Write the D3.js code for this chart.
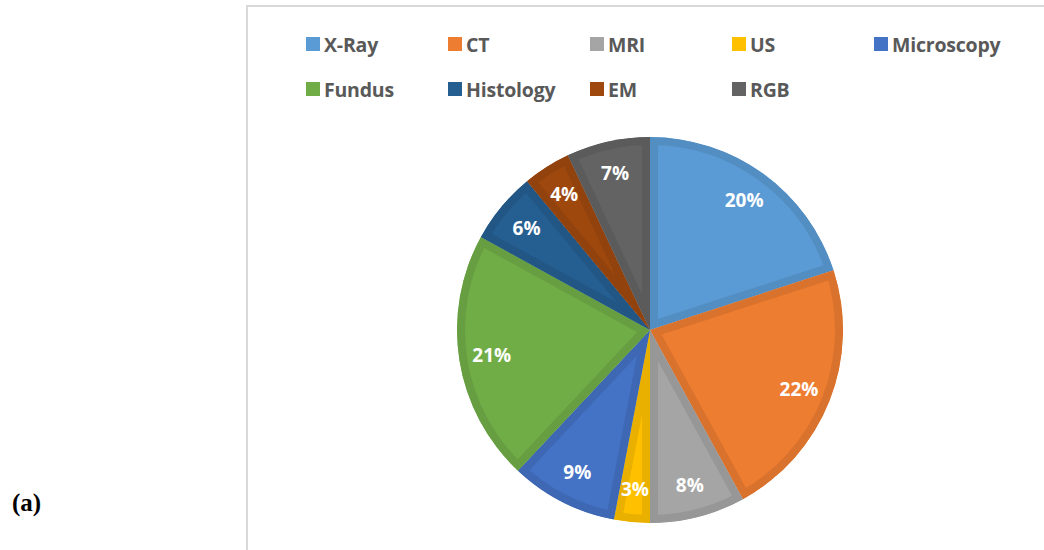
<!DOCTYPE html>
<html>
<head>
<meta charset="utf-8">
<script src="https://cdn.jsdelivr.net/npm/d3@7"></script>
<style>
  body { margin: 0; background: #fff; }
  svg { display: block; }
</style>
</head>
<body>
<div id="chart"></div>
<script>
// Modalities and their share of the data set (percent)
const modalities = ["X-Ray", "CT", "MRI", "US", "Microscopy", "Fundus", "Histology", "EM", "RGB"];
const shares = [20, 22, 8, 3, 9, 21, 6, 4, 7];
const colors = ["#5B9BD5", "#ED7D31", "#A5A5A5", "#FFC000", "#4472C4", "#70AD47", "#255E91", "#9E480E", "#636363"];

const width = 1044, height = 550;

const svg = d3.select("#chart")
    .append("svg")
    .attr("width", width)
    .attr("height", height);

// Chart frame (only left and top edges are visible in the crop)
svg.append("rect")
    .attr("x", 247)
    .attr("y", 6)
    .attr("width", 900)
    .attr("height", 700)
    .attr("fill", "none")
    .attr("stroke", "#d9d9d9")
    .attr("stroke-width", 2);

// Panel label
svg.append("text")
    .attr("x", 12)
    .attr("y", 511)
    .style("font-family", "'Liberation Serif', 'DejaVu Serif', serif")
    .style("font-weight", "bold")
    .style("font-size", "25px")
    .attr("fill", "#000")
    .text("(a)");

// Legend
const legendCols = 5;
const legend = svg.append("g")
    .attr("transform", "translate(306, 37)");

modalities.forEach((m, i) => {
    const row = legend.append("g")
        .attr("transform", `translate(${(i % legendCols) * 142}, ${Math.floor(i / legendCols) * 45})`);

    row.append("rect")
        .attr("width", 14)
        .attr("height", 14)
        .attr("fill", colors[i]);

    row.append("text")
        .attr("x", 18)
        .attr("y", 15)
        .style("font-family", "'Open Sans', sans-serif")
        .style("font-weight", "bold")
        .style("font-size", "19.5px")
        .style("letter-spacing", "-0.2px")
        .attr("fill", "#595959")
        .text(m);
});

// Pie
const cx = 650, cy = 330, radius = 193;

const pie = d3.pie()
    .sort(null)
    .value(d => d);

const arc = d3.arc()
    .innerRadius(0)
    .outerRadius(radius);

const labelArc = d3.arc()
    .innerRadius(radius * 0.83)
    .outerRadius(radius * 0.83);

const g = svg.append("g")
    .attr("transform", `translate(${cx},${cy})`);

const defs = svg.append("defs");

const arcs = pie(shares);

arcs.forEach((a, i) => {
    defs.append("clipPath")
        .attr("id", `clip-${i}`)
        .append("path")
        .attr("d", arc(a));
});

// Slices with a darker inner border band
g.selectAll("path.slice")
    .data(arcs)
    .join("path")
    .attr("class", "slice")
    .attr("d", arc)
    .attr("fill", (d, i) => colors[i])
    .attr("stroke", (d, i) => d3.color(colors[i]).darker(0.25))
    .attr("stroke-width", 16)
    .attr("stroke-linejoin", "miter")
    .attr("clip-path", (d, i) => `url(#clip-${i})`);

// Percentage labels
g.selectAll("text.pct")
    .data(arcs)
    .join("text")
    .attr("class", "pct")
    .attr("transform", d => `translate(${labelArc.centroid(d)})`)
    .attr("text-anchor", "middle")
    .attr("dy", "0.35em")
    .style("font-family", "'Open Sans', sans-serif")
    .style("font-weight", "bold")
    .style("font-size", "19px")
    .attr("fill", "#fff")
    .text(d => d.data + "%");
</script>
</body>
</html>
